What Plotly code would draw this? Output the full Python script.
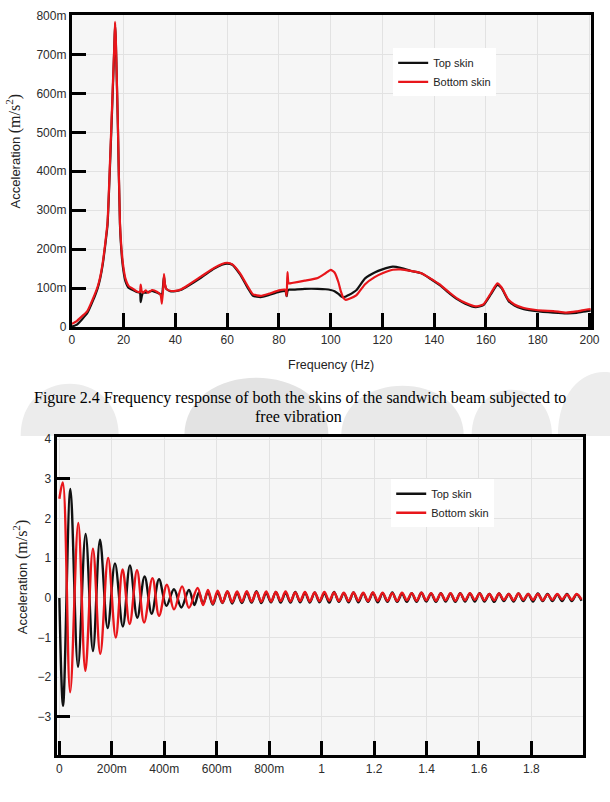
import numpy as np
import plotly.graph_objects as go

# ---------------- Data: frequency response (values in milli m/s^2) ----------------
freq_hz = [0, 2, 4, 6, 8, 10, 11, 12, 13, 13.8, 14.5, 15.3, 16.0, 16.4, 16.7, 17.0, 17.3, 17.8,
           18.6, 19.4, 20.0, 20.7, 22, 23.2, 25, 26.3, 26.6, 27, 27.5, 28.5, 29.5, 31, 33, 34.3,
           34.8, 35.3, 35.6, 36.0, 36.5, 38, 40, 42, 45, 50, 55, 58, 60, 62, 65, 68, 70, 73, 76,
           80, 82.5, 83.0, 83.3, 83.8, 85, 90, 95, 98, 100, 101.5, 103, 104, 105, 105.7, 107,
           110, 113.3, 117, 120, 124, 127, 131, 135, 138.5, 142, 146, 149, 152, 156, 159, 162,
           164.4, 166, 168.7, 171, 174, 178, 182, 186, 191, 195, 199, 200.5]
bottom_skin_fr = [8, 16, 28, 41, 70, 104, 130, 168, 220, 270, 380, 521, 650, 720, 784, 740, 660, 521,
                  268, 184, 150, 125, 105, 100, 92, 90, 109, 92, 88, 94, 88, 95, 90, 82,
                  60, 100, 136, 110, 98, 93, 93, 96, 108, 130, 152, 162, 165, 161, 138, 104, 84, 80, 85,
                  94, 96, 80, 141, 112, 113, 119, 126, 138, 147, 140, 115, 90, 74, 70, 72,
                  82, 110, 128, 138, 147, 148, 144, 138, 125, 110, 88, 73, 62, 53, 58, 88,
                  112, 102, 70, 58, 50, 45, 42, 41, 37, 40, 45, 46]
top_skin_fr = [1, 6, 20, 36, 65, 100, 126, 163, 215, 262, 370, 510, 640, 715, 778, 735, 655, 515,
               262, 175, 142, 118, 100, 96, 90, 88, 64, 78, 88, 88, 90, 93, 88, 84,
               79, 110, 130, 108, 98, 92, 92, 95, 106, 127, 150, 160, 163, 160, 135, 100, 80, 77, 82,
               90, 92, 79, 92, 96, 96, 98, 98, 97, 95, 92, 85, 79, 76, 78, 82,
               95, 125, 140, 148, 155, 152, 144, 138, 124, 108, 86, 71, 60, 51, 56, 85,
               108, 100, 67, 55, 47, 42, 39, 37, 35, 36, 41, 42]

# ---------------- Data: free vibration time response (m/s^2) ----------------
# early part: turning points (time s, value)
bottom_t_early = [0.0, 0.013, 0.041, 0.072, 0.099, 0.128, 0.156, 0.186, 0.215, 0.241, 0.268,
                  0.296, 0.323, 0.355, 0.380, 0.410, 0.437, 0.468, 0.494, 0.527]
bottom_v_early = [2.50, 2.91, -2.38, 1.89, -1.84, 1.24, -1.41, 1.01, -1.00, 0.72, -0.66,
                  0.70, -0.62, 0.50, -0.45, 0.33, -0.29, 0.29, -0.25, 0.25]
top_t_early = [0.0, 0.014, 0.042, 0.071, 0.100, 0.128, 0.155, 0.184, 0.212, 0.242, 0.269,
               0.297, 0.325, 0.352, 0.380, 0.408, 0.437, 0.465, 0.494, 0.515, 0.532]
top_v_early = [0.0, -2.72, 2.75, -1.74, 1.61, -1.34, 1.47, -0.76, 0.87, -0.72, 0.82,
               -0.50, 0.54, -0.40, 0.47, -0.20, 0.22, -0.24, 0.20, -0.18, 0.14]
# tail: turning points on a regular half-period grid
tail_t0 = 0.548
tail_half_period = 0.0185
bottom_tail = [-0.18, 0.20, -0.15, 0.18, -0.12, 0.17, -0.11, 0.16, -0.10, 0.17, -0.09, 0.15, -0.10,
               0.16, -0.09, 0.15, -0.08, 0.16, -0.09, 0.14, -0.08, 0.15, -0.09, 0.14, -0.08, 0.15,
               -0.07, 0.14, -0.08, 0.13, -0.08, 0.14, -0.07, 0.13, -0.08, 0.14, -0.07, 0.13, -0.07,
               0.12, -0.08, 0.13, -0.06, 0.12, -0.07, 0.13, -0.06, 0.12, -0.07, 0.11, -0.06, 0.12,
               -0.07, 0.11, -0.06, 0.12, -0.05, 0.11, -0.06, 0.10, -0.06, 0.11, -0.05, 0.10, -0.06,
               0.11, -0.05, 0.10, -0.05, 0.10, -0.06, 0.09, -0.05, 0.10, -0.04, 0.09, -0.05, 0.10, -0.04]
top_tail = [-0.15, 0.15, -0.17, 0.14, -0.13, 0.16, -0.14, 0.13, -0.13, 0.14, -0.12, 0.17, -0.13,
            0.13, -0.11, 0.15, -0.12, 0.13, -0.12, 0.15, -0.11, 0.13, -0.12, 0.14, -0.11, 0.12,
            -0.12, 0.15, -0.10, 0.12, -0.11, 0.14, -0.11, 0.12, -0.10, 0.13, -0.11, 0.12, -0.10,
            0.14, -0.10, 0.11, -0.10, 0.12, -0.10, 0.13, -0.09, 0.11, -0.10, 0.12, -0.09, 0.11,
            -0.10, 0.12, -0.09, 0.11, -0.09, 0.12, -0.09, 0.10, -0.10, 0.11, -0.08, 0.10, -0.09,
            0.11, -0.08, 0.10, -0.09, 0.11, -0.08, 0.10, -0.08, 0.09, -0.08, 0.10, -0.08, 0.09, -0.07]

series_names = ["Top skin", "Bottom skin"]
freq_ticks = list(range(0, 201, 20))
fr_tickvals = [0, 0.1, 0.2, 0.3, 0.4, 0.5, 0.6, 0.7, 0.8]
fr_ticktext = ["0", "100m", "200m", "300m", "400m", "500m", "600m", "700m", "800m"]
time_tickvals = [0, 0.2, 0.4, 0.6, 0.8, 1.0, 1.2, 1.4, 1.6, 1.8]
time_ticktext = ["0", "200m", "400m", "600m", "800m", "1", "1.2", "1.4", "1.6", "1.8"]
acc_tickvals = [-4, -3, -2, -1, 0, 1, 2, 3, 4]
acc_marked_ticks = [-3, 3]

# ---------------- build ----------------
W, H = 610, 802
BLACK = "#111111"
RED = "#e8161b"
FONT = "Liberation Sans, Arial, sans-serif"
SERIF = "Liberation Serif, Times New Roman, serif"

def tail_times(t0, n):
    return [t0 + i * tail_half_period for i in range(n)]

top_t = top_t_early + tail_times(tail_t0, len(top_tail))
top_v = top_v_early + top_tail
bot_t = bottom_t_early + tail_times(tail_t0, len(bottom_tail))
bot_v = bottom_v_early + bottom_tail

fig = go.Figure()
fig.add_trace(go.Scatter(x=freq_hz, y=np.array(top_skin_fr) / 1000, mode="lines", name=series_names[0],
                         line=dict(color=BLACK, width=2.2, shape="spline", smoothing=0.5),
                         xaxis="x", yaxis="y", legend="legend"))
fig.add_trace(go.Scatter(x=freq_hz, y=np.array(bottom_skin_fr) / 1000, mode="lines", name=series_names[1],
                         line=dict(color=RED, width=2.2, shape="spline", smoothing=0.5),
                         xaxis="x", yaxis="y", legend="legend"))
fig.add_trace(go.Scatter(x=top_t, y=top_v, mode="lines", name=series_names[0],
                         line=dict(color=BLACK, width=2.4, shape="spline", smoothing=1.0),
                         xaxis="x2", yaxis="y2", legend="legend2"))
fig.add_trace(go.Scatter(x=bot_t, y=bot_v, mode="lines", name=series_names[1],
                         line=dict(color=RED, width=2.4, shape="spline", smoothing=1.0),
                         xaxis="x2", yaxis="y2", legend="legend2"))
# empty trace to carry the tick-only overlay axis
fig.add_trace(go.Scatter(x=[], y=[], xaxis="x2", yaxis="y3", showlegend=False, hoverinfo="skip"))

def px_x(x):
    return x / W

def px_y(y):
    return 1 - y / H

axis_common = dict(showline=True, linewidth=3, linecolor="black", mirror=True,
                   showgrid=True, gridcolor="#e2e2e2", gridwidth=1, zeroline=False,
                   tickfont=dict(family=FONT, size=12, color="#2b2b2b"))

legend_common = dict(bgcolor="white", borderwidth=0, font=dict(family=FONT, size=11, color="#222"),
                     xanchor="left", yanchor="top", tracegroupgap=0, itemwidth=30)

fig.update_layout(
    width=W, height=H,
    margin=dict(l=0, r=0, t=0, b=0),
    paper_bgcolor="white", plot_bgcolor="#f6f6f6",
    xaxis=dict(domain=[px_x(70.2), px_x(599.6)], anchor="y", range=[0, 200.5],
               tickmode="array", tickvals=freq_ticks, ticks="inside", ticklen=14, tickwidth=3,
               tickcolor="black", **axis_common),
    yaxis=dict(domain=[px_y(326.3), px_y(9.3)], anchor="x", range=[0, 0.801],
               tickmode="array", tickvals=fr_tickvals, ticktext=fr_ticktext,
               ticks="inside", ticklen=14, tickwidth=3, tickcolor="black", **axis_common),
    xaxis2=dict(domain=[px_x(54.7), px_x(592)], anchor="y2", range=[-0.0105, 1.998],
                tickmode="array", tickvals=time_tickvals, ticktext=time_ticktext,
                ticks="inside", ticklen=14, tickwidth=3, tickcolor="black", **axis_common),
    yaxis2=dict(domain=[px_y(761.7), px_y(438)], anchor="x2", range=[-3.97, 4.06],
                tickmode="array", tickvals=acc_tickvals, ticks="", **axis_common),
    yaxis3=dict(overlaying="y2", anchor="x2", side="left", range=[-3.97, 4.06],
                tickmode="array", tickvals=acc_marked_ticks, ticks="inside", ticklen=13,
                tickwidth=3, tickcolor="black", showticklabels=False, showgrid=False,
                showline=False, zeroline=False),
    legend=dict(x=px_x(398), y=px_y(43), **legend_common),
    legend2=dict(x=px_x(396), y=px_y(481), **legend_common),
    showlegend=True,
)

# faint background watermark (decoration behind the caption), drawn only above the lower plot
def dome_path(x0, x1, ytop, ybase=437.0):
    yc = ybase - (ybase - ytop) / 0.75
    return (f"M {px_x(x0)},{px_y(ybase)} C {px_x(x0)},{px_y(yc)} {px_x(x1)},{px_y(yc)} "
            f"{px_x(x1)},{px_y(ybase)} Z")

watermark = [(18, 118, 384, "#ececec"), (185, 332, 378, "#e3e3e3"), (345, 470, 386, "#e9e9e9"),
             (478, 560, 390, "#ececec"), (566, 660, 372, "#ededed")]
for x0, x1, yt, col in watermark:
    fig.add_shape(type="path", xref="paper", yref="paper", layer="below",
                  path=dome_path(x0, x1, yt), fillcolor=col, line=dict(width=0))

ytitle = ("Acceleration <span style='font-family:Liberation Serif, Times New Roman, serif;"
          "font-size:16px'>(m/s<sup>2</sup>)</span>")
annotations = [
    dict(text=ytitle, x=px_x(11), y=px_y(147), textangle=-90, font=dict(family=FONT, size=13, color="#222")),
    dict(text=ytitle, x=px_x(18), y=px_y(580), textangle=-90, font=dict(family=FONT, size=13, color="#222")),
    dict(text="Frequency (Hz)", x=px_x(335), y=px_y(365), font=dict(family=FONT, size=12.5, color="#222")),
    dict(text="Figure 2.4 Frequency response of both the skins of the sandwich beam subjected to",
         x=px_x(303), y=px_y(398), font=dict(family=SERIF, size=16, color="black")),
    dict(text="free vibration", x=px_x(301), y=px_y(417), font=dict(family=SERIF, size=16, color="black")),
]
for a in annotations:
    a.update(xref="paper", yref="paper", showarrow=False, xanchor="center", yanchor="middle")
fig.update_layout(annotations=annotations)

fig.write_html("out.html")
